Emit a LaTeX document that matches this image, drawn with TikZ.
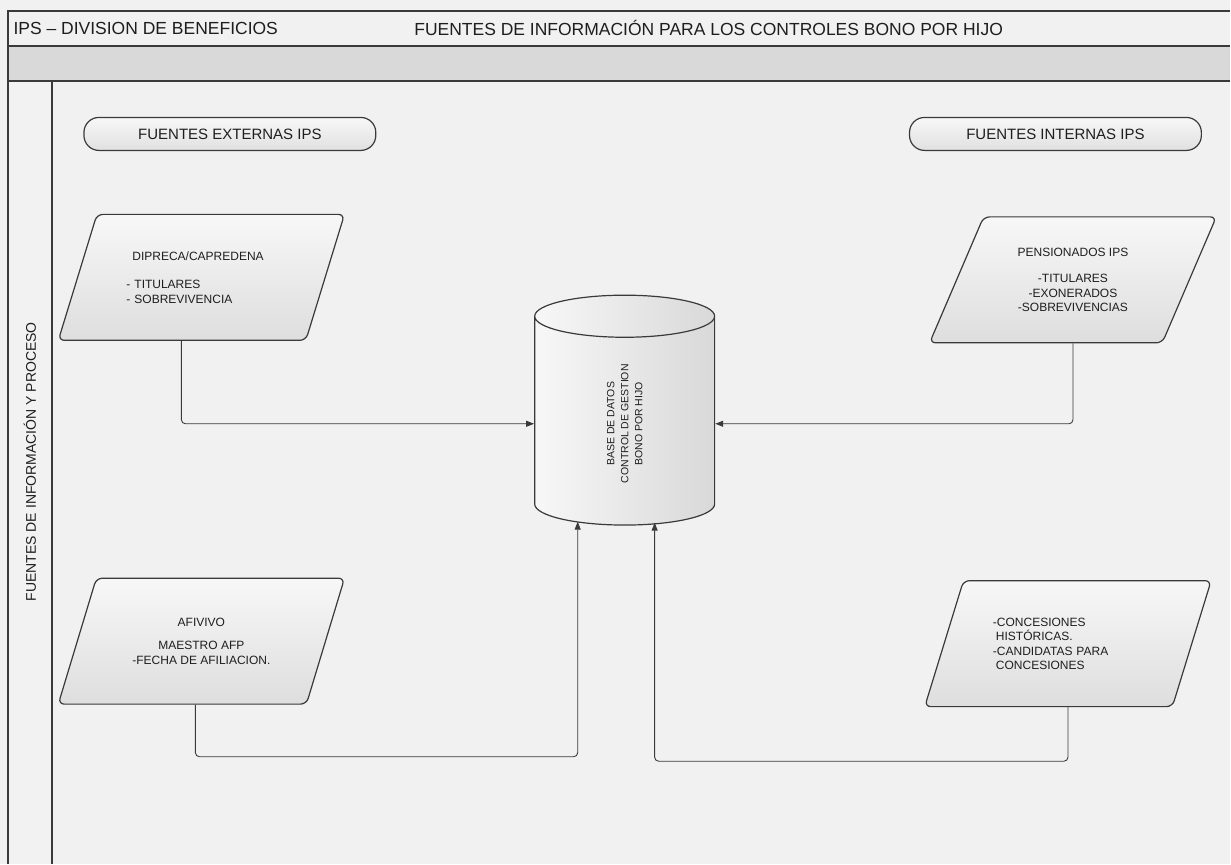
\documentclass[tikz,border=0pt]{standalone}
\usepackage{fontspec}
\setmainfont{Liberation Sans}
\usetikzlibrary{arrows.meta,positioning,shapes.geometric}
\definecolor{lineGray}{HTML}{3A3A3A}
\definecolor{paperGray}{HTML}{F1F1F1}
\definecolor{bandGray}{HTML}{D9D9D9}
\definecolor{textGray}{HTML}{1E1E1E}

\begin{document}
\begin{tikzpicture}[x=1pt,y=-1pt,
  every node/.style={text=textGray,font=\fontsize{12}{14.5}\selectfont},
  source/.style={trapezium,trapezium left angle=63,trapezium right angle=117,
    trapezium stretches=true,minimum width=287pt,minimum height=126pt,
    draw=lineGray,line width=1.2pt,rounded corners=6pt,inner sep=2pt,
    top color=gray!6,bottom color=gray!26},
  head/.style={rectangle,rounded corners=15pt,draw=lineGray,line width=1.2pt,
    minimum width=292pt,minimum height=33pt,top color=gray!6,bottom color=gray!24,
    font=\fontsize{15}{18}\selectfont},
  link/.style={draw=lineGray,line width=0.9pt,rounded corners=4pt,
    -{Triangle[length=8pt,width=6pt]}},
  frame/.style={draw=lineGray,line width=1.3pt}]

  % page and lanes
  \fill[paperGray] (0,0) rectangle (1231,864);
  \fill[gray!11] (8,11) rectangle (1231,46);
  \fill[bandGray] (8,46) rectangle (1231,81);
  \fill[gray!10] (8,81) rectangle (52,864);
  \draw[frame] (1231,11) -- (8,11) -- (8,864);
  \draw[frame] (8,46) -- (1231,46);
  \draw[frame] (8,81) -- (1231,81);
  \draw[frame] (52,81) -- (52,864);

  \node[anchor=west,font=\fontsize{17.5}{20}\selectfont] (division) at (10,28) {IPS – DIVISION DE BENEFICIOS};
  \node[anchor=west,font=\fontsize{17.5}{20}\selectfont] (title) at (411,28) {FUENTES DE INFORMACIÓN PARA LOS CONTROLES BONO POR HIJO};
  \node[rotate=90,font=\fontsize{14}{16}\selectfont] (lane) at (30,462) {FUENTES DE INFORMACIÓN Y PROCESO};

  \node[head] (externas) at (230,134) {FUENTES EXTERNAS IPS};
  \node[head] (internas) at (1056,134) {FUENTES INTERNAS IPS};

  \node[source,text width=150pt,align=left] (dipreca) at (201.5,277.5)
    {\hspace*{6pt}DIPRECA/CAPREDENA\\[14pt]- TITULARES\\- SOBREVIVENCIA};
  \node[source,align=center] (pension) at (1073.5,280)
    {PENSIONADOS IPS\\[12pt]-TITULARES\\-EXONERADOS\\-SOBREVIVENCIAS};
  \node[source,align=center] (afivivo) at (201.5,641.5)
    {AFIVIVO\\[9pt]MAESTRO AFP\\-FECHA DE AFILIACION.};
  \node[source,text width=150pt,align=left] (concesion) at (1068.5,644)
    {-CONCESIONES\\\hspace*{3pt}HISTÓRICAS.\\-CANDIDATAS PARA\\\hspace*{3pt}CONCESIONES};

  \node[cylinder,rotate=90,aspect=1.0,minimum width=180pt,minimum height=230pt,
    draw=lineGray,line width=1.2pt,right color=gray!30,left color=gray!6,
    align=center,font=\fontsize{10.5}{14}\selectfont] (db) at (625,424)
    {BASE DE DATOS\\CONTROL DE GESTION\\BONO POR HIJO};

  \draw[link] ([xshift=-20pt]dipreca.south) |- (db);
  \draw[link] (pension.south) |- (db);
  \draw[link] ([xshift=-6pt]afivivo.south) -- ++(0,52) -| ([xshift=-47pt,yshift=4pt]db.bottom);
  \draw[link] (concesion.south) -- ++(0,54) -| ([xshift=30pt,yshift=3pt]db.bottom);
\end{tikzpicture}
\end{document}
